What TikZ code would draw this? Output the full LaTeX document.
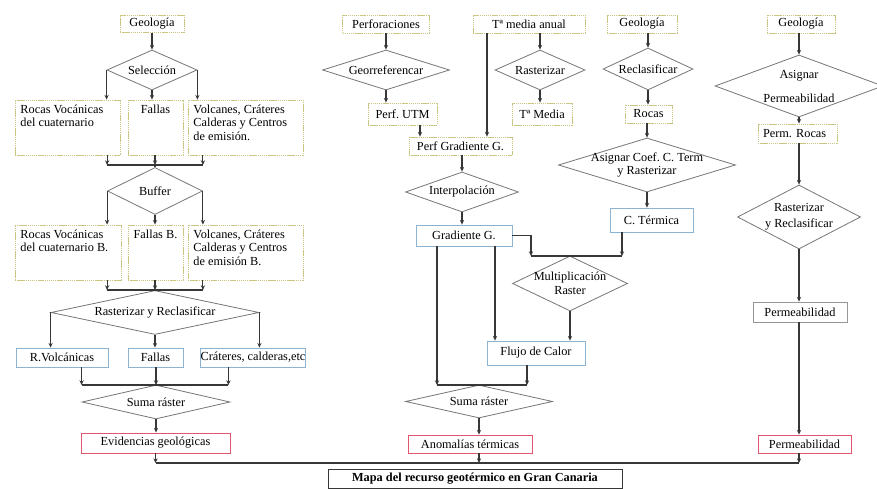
\documentclass[tikz,border=0pt]{standalone}
\usepackage{fontspec}
\setmainfont{Liberation Serif}
\usetikzlibrary{shapes.geometric, arrows.meta}
\definecolor{boxolive}{RGB}{200,198,130}
\definecolor{boxblue}{RGB}{140,180,210}
\definecolor{boxred}{RGB}{225,85,110}
\definecolor{boxgray}{RGB}{150,150,150}
\definecolor{decgray}{RGB}{120,120,120}
\definecolor{lndark}{RGB}{55,55,55}
\tikzset{
  sz/.style 2 args={minimum width=#1*0.03cm, minimum height=#2*0.03cm},
  obox/.style={rectangle, draw=boxolive, dash pattern=on 1.2pt off 0.6pt,
    line width=0.7pt, inner sep=0pt},
  bbox/.style={rectangle, draw=boxblue, line width=0.7pt, inner sep=0pt},
  rbox/.style={rectangle, draw=boxred, line width=0.8pt, inner sep=0pt},
  gbox/.style={rectangle, draw=boxgray, line width=0.7pt, inner sep=0pt},
  mbox/.style={rectangle, draw=lndark, line width=0.8pt, inner sep=0pt,
    font=\fontsize{10.5}{11.5}\selectfont\bfseries},
  dec/.style={diamond, draw=decgray, line width=0.7pt, inner sep=0pt},
  dtext/.style={align=center, inner sep=0pt},
  tl/.style={anchor=north west, align=left, inner xsep=0.17cm, inner ysep=0.15cm},
  tc/.style={anchor=north, align=center, inner ysep=0.15cm},
  arrow/.style={-{Stealth[length=4pt,width=3.6pt]}, line width=1pt, color=lndark},
  line/.style={line width=1pt, color=lndark}
}
\frenchspacing

\begin{document}
\begin{tikzpicture}[x=0.03cm, y=-0.03cm, every node/.style={font=\fontsize{10.5}{11.5}\selectfont}]
  \useasboundingbox (0,0) rectangle (877,489);

  % geologia
  \node[obox, sz={64}{17}] (geo1) at (152,24) {Geología};
  \node[dec, sz={90}{40}, label={[dtext]center:Selección}] (sel) at (152,70) {};
  \node[obox, sz={105}{55}, label={[tl]north west:Rocas Vocánicas\\del cuaternario}] (rv1) at (67.5,127.5) {};
  \node[obox, sz={55}{55}, label={[tc]north:Fallas}] (fa1) at (155.5,127.5) {};
  \node[obox, sz={115}{55}, label={[tl]north west:Volcanes, Cráteres\\Calderas y Centros\\de emisión.}] (vo1) at (245.5,127.5) {};
  \coordinate (j1) at (155,165);
  \node[dec, sz={95}{47}, label={[dtext]center:Buffer}] (buf) at (155,191) {};
  \node[obox, sz={106}{55}, label={[tl]north west:Rocas Vocánicas\\del cuaternario B.}] (rv2) at (68,252.5) {};
  \node[obox, sz={55}{55}, label={[tc]north:Fallas B.}] (fa2) at (155.5,252.5) {};
  \node[obox, sz={115}{55}, label={[tl]north west:Volcanes, Cráteres\\Calderas y Centros\\de emisión B.}] (vo2) at (245.5,252.5) {};
  \coordinate (j2) at (155,290);
  \node[dec, sz={208}{44}, label={[dtext]center:Rasterizar y Reclasificar}] (ras1) at (155,312.5) {};
  \node[bbox, sz={92}{19}] (rvol) at (62,357.5) {R.Volcánicas};
  \node[bbox, sz={55}{19}] (fa3) at (155.5,357.5) {Fallas};
  \node[bbox, sz={100}{19}] (cra) at (253,357.5) {Cráteres, calderas,etc};
  \coordinate (j3) at (156,385);
  \node[dec, sz={148}{34}, label={[dtext]center:Suma ráster}] (sum1) at (156,402) {};
  \node[rbox, sz={149}{20}] (evi) at (155.5,443) {Evidencias geológicas};

  % gradiente y flujo
  \node[obox, sz={87}{18}] (perf) at (386,24) {Perforaciones};
  \node[dec, sz={127}{40}, label={[dtext]center:Georreferencar}] (geor) at (386,70) {};
  \node[obox, sz={69}{22}] (putm) at (402.5,114) {Perf. UTM};
  \node[obox, sz={112}{18}] (tma) at (529,24) {Tª media anual};
  \node[dec, sz={90}{40}, label={[dtext]center:Rasterizar}] (ras2) at (540,70) {};
  \node[obox, sz={60}{22}] (tmed) at (542,114) {Tª Media};
  \node[obox, sz={103}{18}] (pgrad) at (460.5,146) {Perf Gradiente G.};
  \node[dec, sz={113}{40}, label={[dtext]center:Interpolación}] (interp) at (462,192) {};
  \node[bbox, sz={96}{21}] (grad) at (464,235.5) {Gradiente G.};
  \node[dec, sz={115}{55}, label={[dtext]center:Multiplicación\\Raster}] (mult) at (570,283.5) {};
  \node[bbox, sz={98}{24}] (flujo) at (536,353) {Flujo de Calor};
  \node[dec, sz={147}{33}, label={[dtext]center:Suma ráster}] (sum2) at (479,401.5) {};
  \node[rbox, sz={124}{18}] (anom) at (470,444) {Anomalías térmicas};
  \coordinate (xutm) at (420,0);
  \coordinate (xtma) at (487,0);
  \coordinate (xgl) at (437,0);
  \coordinate (xgr) at (495,0);
  \coordinate (xfl) at (527,0);
  \coordinate (xct) at (622,0);
  \coordinate (jg) at (531,256);
  \coordinate (j4) at (479,385);

  % conductividad
  \node[obox, sz={70}{18}] (geo2) at (642,24) {Geología};
  \node[dec, sz={90}{42}, label={[dtext]center:Reclasificar}] (recl) at (648,69) {};
  \node[obox, sz={47}{18}] (rocas) at (648.5,114) {Rocas};
  \node[dec, sz={177}{54}, label={[dtext]center:Asignar Coef. C. Term\\y Rasterizar}] (asig) at (647,165) {};
  \node[bbox, sz={83}{24}] (cter) at (651.5,220) {C. Térmica};

  % permeabilidad
  \node[obox, sz={68}{18}] (geo3) at (801,24) {Geología};
  \node[dec, sz={168}{62}, label={[dtext]center:Asignar\\[9pt]Permeabilidad}] (aperm) at (799,86) {};
  \node[obox, sz={79}{19}, text width=2.07cm, align=left] (prock) at (797.5,133.5) {Perm. Rocas};
  \node[dec, sz={123}{64}, label={[dtext]center:Rasterizar\\[2pt]y Reclasificar}] (rrc) at (799,217) {};
  \node[gbox, sz={94}{20}] (perm1) at (800,312) {Permeabilidad};
  \node[rbox, sz={93}{18}] (perm2) at (804.5,444) {Permeabilidad};

  \coordinate (jb) at (479,463);
  \node[mbox, sz={294}{19}] (mapa) at (475,478.5) {Mapa del recurso geotérmico en Gran Canaria};

  % flechas geologia
  \draw[arrow] (geo1) -- (sel);
  \draw[arrow] (sel.west) -- (sel.west |- rv1.north);
  \draw[arrow] (sel.south) -- (sel.south |- fa1.north);
  \draw[arrow] (sel.east) -- (sel.east |- vo1.north);
  \draw[arrow] (rv1.south -| buf.west) -- (j1 -| buf.west);
  \draw[arrow] (fa1.south -| j1) -- (j1);
  \draw[arrow] (vo1.south -| buf.east) -- (j1 -| buf.east);
  \draw[line] (j1 -| buf.west) -- (j1 -| buf.east);
  \draw[line] (j1) -- (buf.north);
  \draw[arrow] (buf.west) -- (buf.west |- rv2.north);
  \draw[arrow] (buf.south) -- (buf.south |- fa2.north);
  \draw[arrow] (buf.east) -- (buf.east |- vo2.north);
  \draw[arrow] (rv2.south -| buf.west) -- (j2 -| buf.west);
  \draw[arrow] (fa2.south -| j2) -- (j2);
  \draw[arrow] (vo2.south -| buf.east) -- (j2 -| buf.east);
  \draw[line] (j2 -| buf.west) -- (j2 -| buf.east);
  \draw[arrow] (ras1.west) -- (ras1.west |- rvol.north);
  \draw[arrow] (ras1.south) -- (ras1.south |- fa3.north);
  \draw[arrow] (ras1.east) -- (ras1.east |- cra.north);
  \draw[arrow] (rvol.south -| sum1.west) -- (j3 -| sum1.west);
  \draw[arrow] (fa3.south -| j3) -- (j3);
  \draw[arrow] ([xshift=-2*0.03cm]cra.south -| sum1.east) -- ([xshift=-2*0.03cm]j3 -| sum1.east);
  \draw[line] (j3 -| sum1.west) -- ([xshift=-2*0.03cm]j3 -| sum1.east);
  \draw[arrow] (sum1.south) -- (sum1.south |- evi.north);

  % flechas gradiente
  \draw[arrow] (perf) -- (geor);
  \draw[arrow] (geor.south) -- (geor.south |- putm.north);
  \draw[arrow] (putm.south -| xutm) -- (pgrad.north -| xutm);
  \draw[arrow] (tma.south -| xtma) -- (pgrad.north -| xtma);
  \draw[arrow] (ras2.north |- tma.south) -- (ras2.north);
  \draw[arrow] (ras2.south) -- (ras2.south |- tmed.north);
  \draw[arrow] (interp.north |- pgrad.south) -- (interp.north);
  \draw[arrow] (interp.south) -- (interp.south |- grad.north);
  \draw[arrow] (grad.east) -| (jg);
  \draw[arrow] (cter.south -| xct) -- (jg -| xct);
  \draw[line] (jg) -- (jg -| xct);
  \draw[arrow] (grad.south -| xgr) -- (flujo.north -| xgr);
  \draw[arrow] (mult.south) -- (mult.south |- flujo.north);
  \draw[arrow] (grad.south -| xgl) -- (j4 -| xgl);
  \draw[arrow] (flujo.south -| xfl) -- (j4 -| xfl);
  \draw[line] (j4 -| xgl) -- (j4 -| xfl);
  \draw[arrow] (sum2.south) -- (sum2.south |- anom.north);

  % flechas conductividad
  \draw[arrow] (recl.north |- geo2.south) -- (recl.north);
  \draw[arrow] (recl.south) -- (recl.south |- rocas.north);
  \draw[arrow] (asig.north |- rocas.south) -- (asig.north);
  \draw[arrow] (asig.south) -- (asig.south |- cter.north);

  % flechas permeabilidad
  \draw[arrow] (aperm.north |- geo3.south) -- (aperm.north);
  \draw[arrow] (aperm.south) -- (aperm.south |- prock.north);
  \draw[arrow] (rrc.north |- prock.south) -- (rrc.north);
  \draw[arrow] (rrc.south) -- (rrc.south |- perm1.north);
  \draw[arrow] (rrc.south |- perm1.south) -- (rrc.south |- perm2.north);

  % mapa final
  \draw[arrow] (evi.south) -- (evi.south |- jb);
  \draw[arrow] (anom.south -| jb) -- (jb);
  \draw[arrow] (rrc.south |- perm2.south) -- (rrc.south |- jb);
  \draw[line] (evi.south |- jb) -- (rrc.south |- jb);
\end{tikzpicture}
\end{document}
